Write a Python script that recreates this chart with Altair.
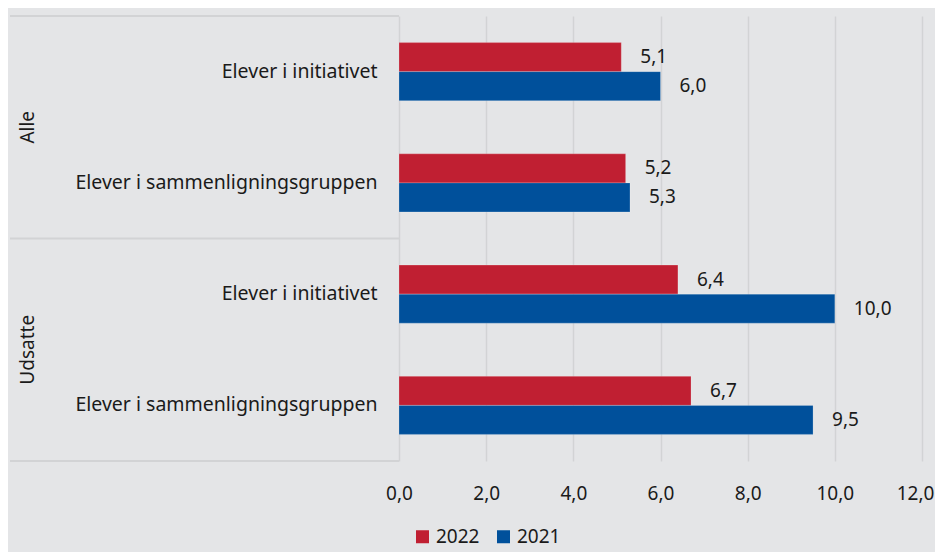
import altair as alt
import pandas as pd

groups = ["Alle", "Alle", "Udsatte", "Udsatte"]
subcats = ["Elever i initiativet", "Elever i sammenligningsgruppen",
           "Elever i initiativet", "Elever i sammenligningsgruppen"]
years = ["2022", "2021"]
v2022 = [5.1, 5.2, 6.4, 6.7]
v2021 = [6.0, 5.3, 10.0, 9.5]
colors = ["#c01f32", "#00509b"]
x_ticks = [0, 2, 4, 6, 8, 10, 12]

keys = [f"{g}|{s}" for g, s in zip(groups, subcats)]
rows = []
for k, a, b in zip(keys, v2022, v2021):
    rows.append({"key": k, "year": "2022", "value": a})
    rows.append({"key": k, "year": "2021", "value": b})
df = pd.DataFrame(rows)

FONT = "Noto Sans"
TXT = "#1a1a1a"
GRID = "#d2d3d5"
FS = 19

yenc = alt.Y("key:N", sort=keys, title=None,
             scale=alt.Scale(paddingInner=0, paddingOuter=0),
             axis=alt.Axis(labelExpr="split(datum.value, '|')[1]", domain=False,
                           ticks=False, labelPadding=22, labelFontSize=19.5,
                           labelColor=TXT, labelFont=FONT, labelLimit=400))

base = alt.Chart(df)

bars = base.mark_bar(stroke="#ffffff", strokeOpacity=0.25, strokeWidth=0.8).encode(
    x=alt.X("value:Q", title=None,
            scale=alt.Scale(domain=[0, 12], nice=False, zero=True),
            axis=alt.Axis(values=x_ticks, domain=False, ticks=False, grid=True,
                          gridColor=GRID, gridWidth=1.5, labelPadding=23,
                          labelFlush=False, labelBound=False, labelOverlap=False,
                          labelOffset={"condition": {"test": "datum.value >= 12", "value": -7},
                                       "value": 0},
                          labelFontSize=FS, labelColor=TXT, labelFont=FONT,
                          labelExpr="replace(format(datum.value, '.1f'), '.', ',')")),
    y=yenc,
    yOffset=alt.YOffset("year:N", sort=years,
                        scale=alt.Scale(paddingInner=0, paddingOuter=0.918)),
    color=alt.Color("year:N", sort=years,
                    scale=alt.Scale(domain=years, range=colors),
                    legend=alt.Legend(title=None, orient="none", direction="horizontal",
                                      legendX=14, legendY=511, symbolType="square",
                                      symbolSize=169, symbolStrokeWidth=0,
                                      labelFontSize=FS, labelColor=TXT, labelFont=FONT,
                                      columnPadding=14, labelOffset=4)),
)

labels = base.mark_text(align="left", baseline="middle", dx=19, fontSize=FS,
                        font=FONT, color=TXT).encode(
    x=alt.X("value:Q"),
    y=alt.Y("key:N", sort=keys),
    yOffset=alt.YOffset("year:N", sort=years),
    text=alt.Text("label:N"),
).transform_calculate(label="replace(format(datum.value, '.1f'), '.', ',')")

group_starts = pd.DataFrame({"key": [keys[0], keys[2]]})
group_end = pd.DataFrame({"key": [keys[3]]})
group_mid = pd.DataFrame({"key": [keys[1], keys[3]], "name": [groups[0], groups[2]]})

rule_top = alt.Chart(group_starts).mark_rule(color=GRID, strokeWidth=2).encode(
    y=alt.Y("key:N", sort=keys, bandPosition=0),
    x=alt.value(-389), x2=alt.value(0))
rule_bot = alt.Chart(group_end).mark_rule(color=GRID, strokeWidth=2).encode(
    y=alt.Y("key:N", sort=keys, bandPosition=1),
    x=alt.value(-389), x2=alt.value(0))
group_text = alt.Chart(group_mid).mark_text(angle=270, align="center", baseline="middle",
                                            fontSize=FS, font=FONT, color=TXT).encode(
    y=alt.Y("key:N", sort=keys, bandPosition=0),
    x=alt.value(-371),
    text="name:N")

chart = alt.layer(bars, labels, rule_top, rule_bot, group_text).properties(
    width=523, height=445,
    autosize=alt.AutoSizeParams(type="none"),
    padding={"left": 391, "top": 8, "right": 13, "bottom": 91},
    background="#e4e5e7",
).configure_view(stroke=None)

chart.save("out.html", embed_options={"renderer": "svg", "actions": False})
